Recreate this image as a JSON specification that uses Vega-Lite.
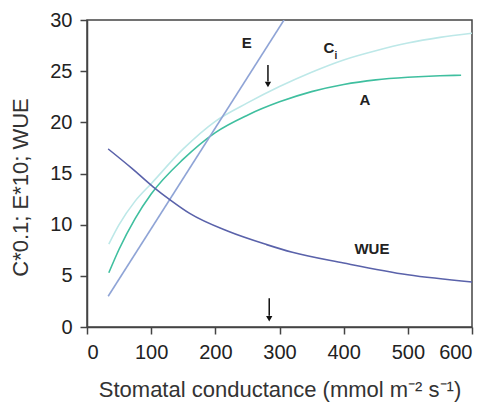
{
  "$schema": "https://vega.github.io/schema/vega-lite/v6.json",
  "autosize": {"type": "none"},
  "padding": {"left": 87, "top": 20, "right": 21, "bottom": 76},
  "width": 385,
  "height": 307,
  "config": {
    "font": "Liberation Sans",
    "view": {"stroke": "#444", "strokeWidth": 1.5},
    "axis": {
      "grid": false,
      "domainColor": "#444",
      "domainWidth": 1.5,
      "tickColor": "#444",
      "tickWidth": 1.5,
      "tickSize": 7,
      "labelFontSize": 20,
      "labelColor": "#222",
      "labelFont": "Liberation Sans",
      "titleFont": "Liberation Sans",
      "titleFontSize": 22,
      "titleFontWeight": "normal",
      "titleColor": "#333",
      "labelPadding": 8
    }
  },
  "datasets": {
    "curves": [
      {"series": "Ci", "g": 34, "v": 8.1},
      {"series": "Ci", "g": 50, "v": 10.0},
      {"series": "Ci", "g": 75, "v": 12.3},
      {"series": "Ci", "g": 100, "v": 14.0},
      {"series": "Ci", "g": 150, "v": 17.4},
      {"series": "Ci", "g": 200, "v": 20.1},
      {"series": "Ci", "g": 250, "v": 21.9},
      {"series": "Ci", "g": 300, "v": 23.5},
      {"series": "Ci", "g": 350, "v": 24.9},
      {"series": "Ci", "g": 400, "v": 26.1},
      {"series": "Ci", "g": 450, "v": 27.0},
      {"series": "Ci", "g": 500, "v": 27.75},
      {"series": "Ci", "g": 550, "v": 28.3},
      {"series": "Ci", "g": 600, "v": 28.7},
      {"series": "A", "g": 34, "v": 5.3},
      {"series": "A", "g": 50, "v": 7.6},
      {"series": "A", "g": 75, "v": 10.6},
      {"series": "A", "g": 100, "v": 13.0},
      {"series": "A", "g": 150, "v": 16.4},
      {"series": "A", "g": 200, "v": 19.0},
      {"series": "A", "g": 250, "v": 20.7},
      {"series": "A", "g": 300, "v": 22.0},
      {"series": "A", "g": 350, "v": 23.0},
      {"series": "A", "g": 400, "v": 23.7},
      {"series": "A", "g": 450, "v": 24.15},
      {"series": "A", "g": 500, "v": 24.4},
      {"series": "A", "g": 550, "v": 24.55},
      {"series": "A", "g": 583, "v": 24.6},
      {"series": "E", "g": 33, "v": 3.0},
      {"series": "E", "g": 307, "v": 30.0},
      {"series": "WUE", "g": 33, "v": 17.4},
      {"series": "WUE", "g": 70, "v": 15.5},
      {"series": "WUE", "g": 103, "v": 13.7},
      {"series": "WUE", "g": 130, "v": 12.4},
      {"series": "WUE", "g": 160, "v": 11.1},
      {"series": "WUE", "g": 220, "v": 9.35},
      {"series": "WUE", "g": 280, "v": 8.05},
      {"series": "WUE", "g": 320, "v": 7.3},
      {"series": "WUE", "g": 400, "v": 6.25},
      {"series": "WUE", "g": 500, "v": 5.1},
      {"series": "WUE", "g": 600, "v": 4.4}
    ],
    "arrows": [
      {"g": 282, "top": 25.6, "bottom": 24.0, "tip": 23.7},
      {"g": 284, "top": 2.8, "bottom": 1.1, "tip": 0.8}
    ],
    "labels": [
      {"g": 249, "v": 27.8, "label": "E"},
      {"g": 377, "v": 27.3, "label": "C"},
      {"g": 433, "v": 22.2, "label": "A"},
      {"g": 444, "v": 7.6, "label": "WUE"}
    ],
    "subs": [
      {"g": 388, "v": 26.5, "label": "i"}
    ]
  },
  "layer": [
    {
      "data": {"name": "curves"},
      "mark": {"type": "line", "interpolate": "monotone", "strokeWidth": 1.6, "clip": true},
      "encoding": {
        "x": {
          "field": "g", "type": "quantitative",
          "scale": {"domain": [0, 600], "nice": false},
          "axis": {"values": [0, 100, 200, 300, 400, 500, 600], "title": "Stomatal conductance (mmol m⁻² s⁻¹)", "titlePadding": 17}
        },
        "y": {
          "field": "v", "type": "quantitative",
          "scale": {"domain": [0, 30], "nice": false},
          "axis": {"values": [0, 5, 10, 15, 20, 25, 30], "title": "C*0.1; E*10; WUE", "titleX": -55, "titleY": 167}
        },
        "color": {
          "field": "series", "type": "nominal",
          "scale": {"domain": ["Ci", "A", "E", "WUE"], "range": ["#bde8e8", "#3fbf9f", "#8fa4d6", "#5a62aa"]},
          "legend": null
        },
        "order": {"field": "g", "type": "quantitative"}
      }
    },
    {
      "data": {"name": "arrows"},
      "mark": {"type": "rule", "color": "#111", "strokeWidth": 1.5},
      "encoding": {
        "x": {"field": "g", "type": "quantitative"},
        "y": {"field": "top", "type": "quantitative"},
        "y2": {"field": "bottom"}
      }
    },
    {
      "data": {"name": "arrows"},
      "mark": {"type": "point", "shape": "triangle-down", "filled": true, "color": "#111", "size": 40, "opacity": 1},
      "encoding": {
        "x": {"field": "g", "type": "quantitative"},
        "y": {"field": "tip", "type": "quantitative"}
      }
    },
    {
      "data": {"name": "labels"},
      "mark": {"type": "text", "fontSize": 15, "fontWeight": "bold", "color": "#222", "align": "center", "baseline": "middle", "font": "Liberation Sans"},
      "encoding": {
        "x": {"field": "g", "type": "quantitative"},
        "y": {"field": "v", "type": "quantitative"},
        "text": {"field": "label"}
      }
    },
    {
      "data": {"name": "subs"},
      "mark": {"type": "text", "fontSize": 10, "fontWeight": "bold", "color": "#222", "align": "center", "baseline": "middle", "font": "Liberation Sans"},
      "encoding": {
        "x": {"field": "g", "type": "quantitative"},
        "y": {"field": "v", "type": "quantitative"},
        "text": {"field": "label"}
      }
    }
  ]
}
